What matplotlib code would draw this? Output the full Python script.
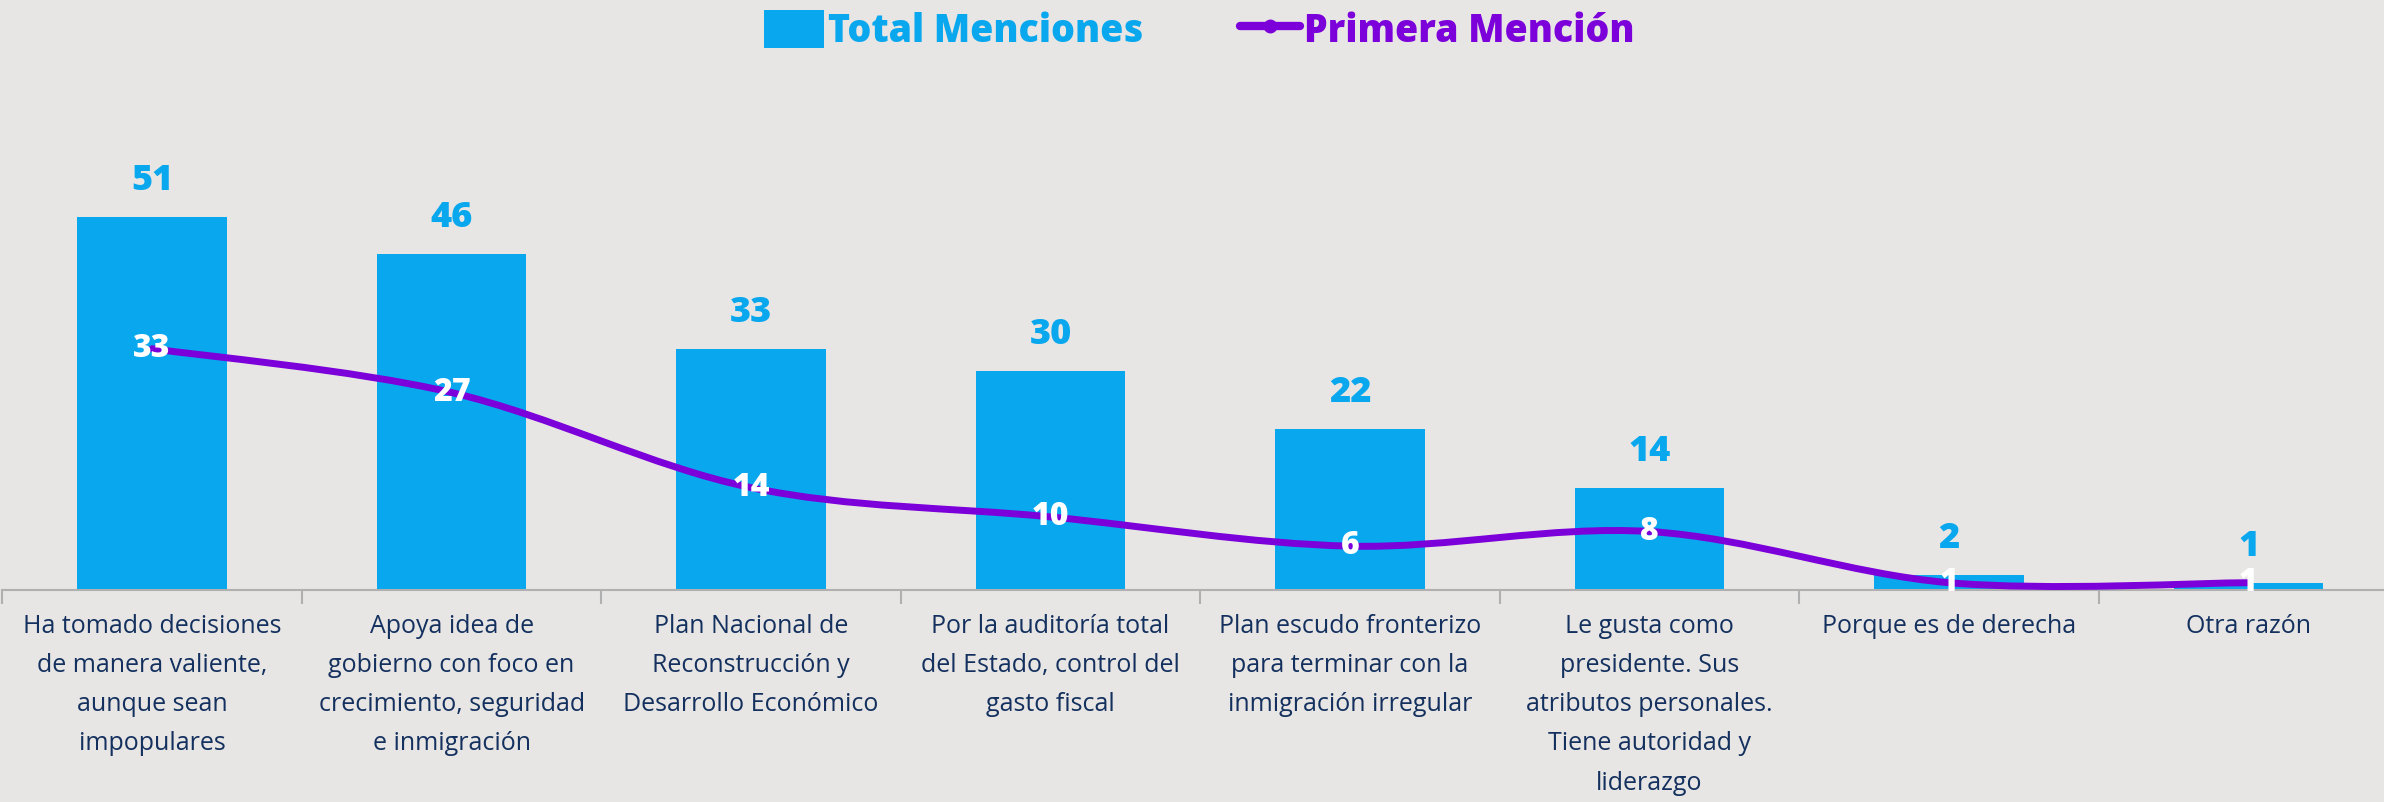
import matplotlib.pyplot as plt
from matplotlib.path import Path
from matplotlib.patches import PathPatch, Patch
from matplotlib.lines import Line2D
import numpy as np

plt.rcParams['font.family'] = ['Open Sans', 'DejaVu Sans']

categorias = ['Ha tomado decisiones\nde manera valiente,\naunque sean\nimpopulares',
              'Apoya idea de\ngobierno con foco en\ncrecimiento, seguridad\ne inmigración',
              'Plan Nacional de\nReconstrucción y\nDesarrollo Económico',
              'Por la auditoría total\ndel Estado, control del\ngasto fiscal',
              'Plan escudo fronterizo\npara terminar con la\ninmigración irregular',
              'Le gusta como\npresidente. Sus\natributos personales.\nTiene autoridad y\nliderazgo',
              'Porque es de derecha',
              'Otra razón']
total_menciones = [51, 46, 33, 30, 22, 14, 2, 1]
primera_mencion = [33, 27, 14, 10, 6, 8, 1, 1]

azul = '#08A7EE'
morado = '#7B00DA'
navy = '#13305E'
fondo = '#E8E6E4'

fig = plt.figure(figsize=(23.84, 8.02), dpi=100, facecolor=fondo)
ax1 = fig.add_axes([0.001, 0.2643, 1.005, 0.611])
ax1.set_facecolor(fondo)

x = np.arange(len(categorias))
ax1.bar(x, total_menciones, width=0.5, color=azul, zorder=2)
for xi, v in zip(x, total_menciones):
    ax1.annotate(str(v), (xi, v), xytext=(0, 13), textcoords='offset points',
                 ha='center', va='bottom', fontsize=26, fontweight='heavy', color=azul)

# curva suavizada (Catmull-Rom -> Bezier) a traves de los puntos
p = np.column_stack([x, primera_mencion]).astype(float)
pp = np.vstack([p[0], p, p[-1]])
verts = [tuple(p[0])]
codes = [Path.MOVETO]
for i in range(1, len(pp) - 2):
    c1 = pp[i] + (pp[i + 1] - pp[i - 1]) / 6
    c2 = pp[i + 1] - (pp[i + 2] - pp[i]) / 6
    verts += [tuple(c1), tuple(c2), tuple(pp[i + 1])]
    codes += [Path.CURVE4] * 3
ax1.add_patch(PathPatch(Path(verts, codes), facecolor='none', edgecolor=morado,
                        lw=5, capstyle='round', zorder=3))
for xi, v in zip(x, primera_mencion):
    ax1.text(xi, v, str(v), ha='center', va='center', fontsize=23,
             fontweight='heavy', color='white', zorder=4)

ax1.set_xlim(-0.5, 7.5)
ax1.set_ylim(0, 67)
ax1.set_yticks([])
for s in ['top', 'right', 'left']:
    ax1.spines[s].set_visible(False)
ax1.spines['bottom'].set_color('#B0B0B0')
ax1.spines['bottom'].set_linewidth(1.5)
ax1.set_xticks(x)
ax1.set_xticklabels(categorias, fontsize=18, color=navy, linespacing=1.75, va='top')
ax1.tick_params(axis='x', which='major', length=0, pad=17)
ax1.set_xticks(np.arange(-0.5, 8, 1), minor=True)
ax1.tick_params(axis='x', which='minor', length=10, width=1.5, color='#B0B0B0')

handles = [Patch(facecolor=azul, edgecolor='none'),
           Line2D([], [], color=morado, lw=6, marker='o', markersize=9, solid_capstyle='round')]
leg = fig.legend(handles, ['Total Menciones', 'Primera Mención'], loc='center',
                 bbox_to_anchor=(0.503, 0.962), ncol=2, frameon=False,
                 prop={'size': 27, 'weight': 'heavy'}, handlelength=1.6, handleheight=1.2,
                 handletextpad=0.1, columnspacing=2.6)
for t, c in zip(leg.get_texts(), [azul, morado]):
    t.set_color(c)

fig.savefig('out.png', facecolor=fondo)
